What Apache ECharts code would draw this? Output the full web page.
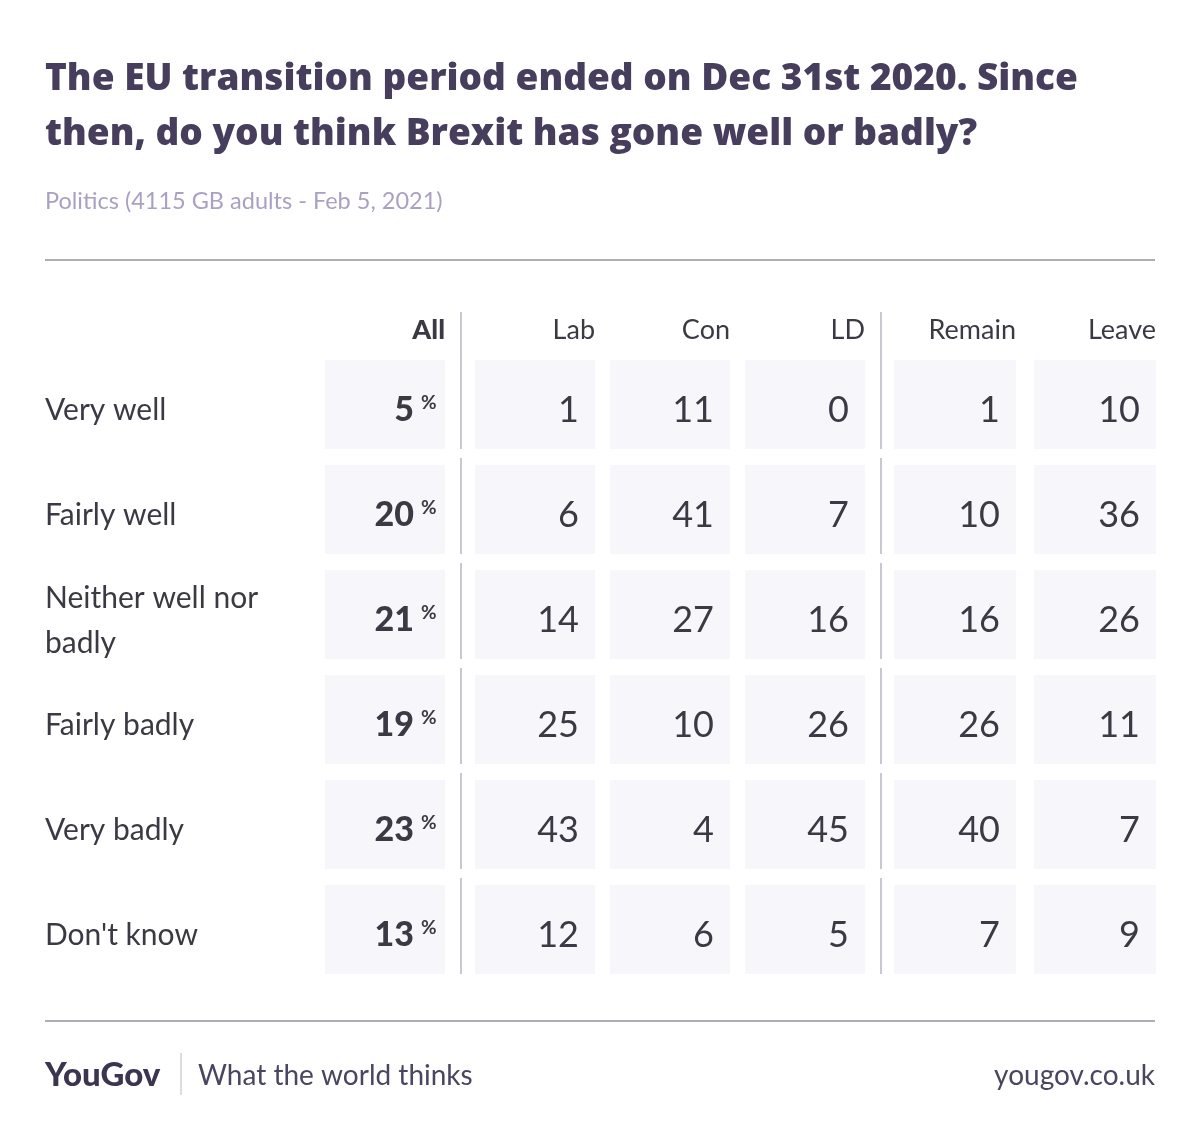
<!DOCTYPE html>
<html>
<head>
<meta charset="utf-8">
<script src="https://cdn.jsdelivr.net/npm/echarts@6/dist/echarts.min.js"></script>
<style>
  html, body { margin: 0; padding: 0; background: #fff; }
  #container { width: 1200px; height: 1140px; }
</style>
</head>
<body>
<div id="container"></div>
<script>
// rows of the table
var rowLabels = ['Very well', 'Fairly well', 'Neither well nor badly', 'Fairly badly', 'Very badly', "Don't know"];

// column groups
var allCols = ['All'];
var partyCols = ['Lab', 'Con', 'LD'];
var euCols = ['Remain', 'Leave'];

// values (%)
var allValues = [5, 20, 21, 19, 23, 13];
var labValues = [1, 6, 14, 25, 43, 12];
var conValues = [11, 41, 27, 10, 4, 6];
var ldValues = [0, 7, 16, 26, 45, 5];
var remainValues = [1, 10, 16, 26, 40, 7];
var leaveValues = [10, 36, 26, 11, 7, 9];

var dark = '#3b3a44';
var cellColor = '#f7f7fb';
var sepColor = '#c9c8d2';
var font = 'Lato';

function toData(columns) {
    var out = [];
    columns.forEach(function (vals, ci) {
        vals.forEach(function (v, ri) { out.push([ci, ri, v]); });
    });
    return out;
}

// makes a renderItem for one column group
function cellRenderer(cols, gap, bold, sepAfterLast) {
    return function (params, api) {
        var ci = api.value(0), ri = api.value(1), v = api.value(2);
        var c = api.coord([ci, ri]);
        var band = api.size([1, 1]);
        var w = band[0] - gap, h = 89;
        var left = c[0] - w / 2, top = c[1] - h / 2, right = left + w;
        var kids = [{
            type: 'rect',
            shape: {x: left, y: top, width: w, height: h},
            style: {fill: cellColor}
        }];
        if (bold) {
            // the "All" column also carries the row label on the far left
            kids.push({
                type: 'text', x: 45, y: c[1] + 6,
                style: {text: rowLabels[ri], fill: dark, fontFamily: font, fontSize: 30,
                        lineHeight: 45, width: 250, overflow: 'break',
                        align: 'left', verticalAlign: 'middle'}
            });
            kids.push({
                type: 'text', x: right - 31, y: c[1] + 6,
                style: {text: String(v), fill: dark, fontFamily: font, fontWeight: 900,
                        fontSize: 34, align: 'right', verticalAlign: 'middle'}
            });
            kids.push({
                type: 'text', x: right - 24, y: c[1] - 2,
                style: {text: '%', fill: dark, fontFamily: font, fontWeight: 'bold',
                        fontSize: 19, align: 'left', verticalAlign: 'middle'}
            });
        } else {
            kids.push({
                type: 'text', x: right - 16, y: c[1] + 6,
                style: {text: String(v), fill: dark, fontFamily: font,
                        fontSize: 36, align: 'right', verticalAlign: 'middle'}
            });
        }
        if (ri === 0) {
            kids.push({
                type: 'text', x: right, y: top - 30,
                style: {text: cols[ci], fill: dark, fontFamily: font,
                        fontWeight: bold ? 900 : 'normal',
                        fontSize: 27, align: 'right', verticalAlign: 'middle'}
            });
        }
        if (sepAfterLast && ci === cols.length - 1) {
            kids.push({
                type: 'line',
                shape: {x1: right + 16, y1: ri === 0 ? top - 48 : top - 7, x2: right + 16, y2: top + h},
                style: {stroke: sepColor, lineWidth: 2}
            });
        }
        return {type: 'group', children: kids};
    };
}

var rowTop = 352, rowBand = 105;
var grids = [
    {left: 325, width: 120},
    {left: 467.5, width: 405},
    {left: 885, width: 280}
];
grids.forEach(function (g) { g.top = rowTop; g.height = rowBand * rowLabels.length; });

function yAxis(i) {
    return {
        type: 'category', gridIndex: i, data: rowLabels, inverse: true,
        axisLine: {show: false}, axisTick: {show: false}, splitLine: {show: false},
        axisLabel: {show: false}
    };
}
function xAxis(i, cols) {
    return {
        type: 'category', gridIndex: i, data: cols,
        axisLine: {show: false}, axisTick: {show: false}, axisLabel: {show: false}, splitLine: {show: false}
    };
}

var dom = document.getElementById('container');
var myChart = echarts.init(dom, null, {renderer: 'canvas'});
var option = {
    backgroundColor: '#ffffff',
    animation: false,
    title: {
        text: 'The EU transition period ended on Dec 31st 2020. Since\nthen, do you think Brexit has gone well or badly?',
        subtext: 'Politics (4115 GB adults - Feb 5, 2021)',
        left: 45, top: 52, itemGap: 26, padding: 0,
        textStyle: {fontFamily: 'Open Sans', fontWeight: 800, fontSize: 37, lineHeight: 55, color: '#463e5c'},
        subtextStyle: {fontFamily: font, fontSize: 23.5, lineHeight: 26, color: '#aaa1c2'}
    },
    grid: grids,
    xAxis: [xAxis(0, allCols), xAxis(1, partyCols), xAxis(2, euCols)],
    yAxis: [yAxis(0), yAxis(1), yAxis(2)],
    series: [
        {type: 'custom', xAxisIndex: 0, yAxisIndex: 0, data: toData([allValues]),
         renderItem: cellRenderer(allCols, 0, true, true), silent: true},
        {type: 'custom', xAxisIndex: 1, yAxisIndex: 1, data: toData([labValues, conValues, ldValues]),
         renderItem: cellRenderer(partyCols, 15, false, true), silent: true},
        {type: 'custom', xAxisIndex: 2, yAxisIndex: 2, data: toData([remainValues, leaveValues]),
         renderItem: cellRenderer(euCols, 18, false, false), silent: true}
    ],
    graphic: [
        {type: 'line', shape: {x1: 45, y1: 260, x2: 1155, y2: 260}, style: {stroke: '#aeacbd', lineWidth: 2}},
        {type: 'line', shape: {x1: 45, y1: 1021, x2: 1155, y2: 1021}, style: {stroke: '#aeacbd', lineWidth: 2}},
        {type: 'text', left: 45, top: 1059,
         style: {text: 'YouGov', fill: '#3b3550', fontFamily: font, fontWeight: 900, fontSize: 33}},
        {type: 'line', shape: {x1: 181, y1: 1053, x2: 181, y2: 1095}, style: {stroke: '#d0ced8', lineWidth: 1.5}},
        {type: 'text', left: 198, top: 1062,
         style: {text: 'What the world thinks', fill: '#4a4560', fontFamily: font, fontSize: 28}},
        {type: 'text', right: 45, top: 1062,
         style: {text: 'yougov.co.uk', fill: '#4a4560', fontFamily: font, fontSize: 28}}
    ]
};
myChart.setOption(option, true);
</script>
</body>
</html>
